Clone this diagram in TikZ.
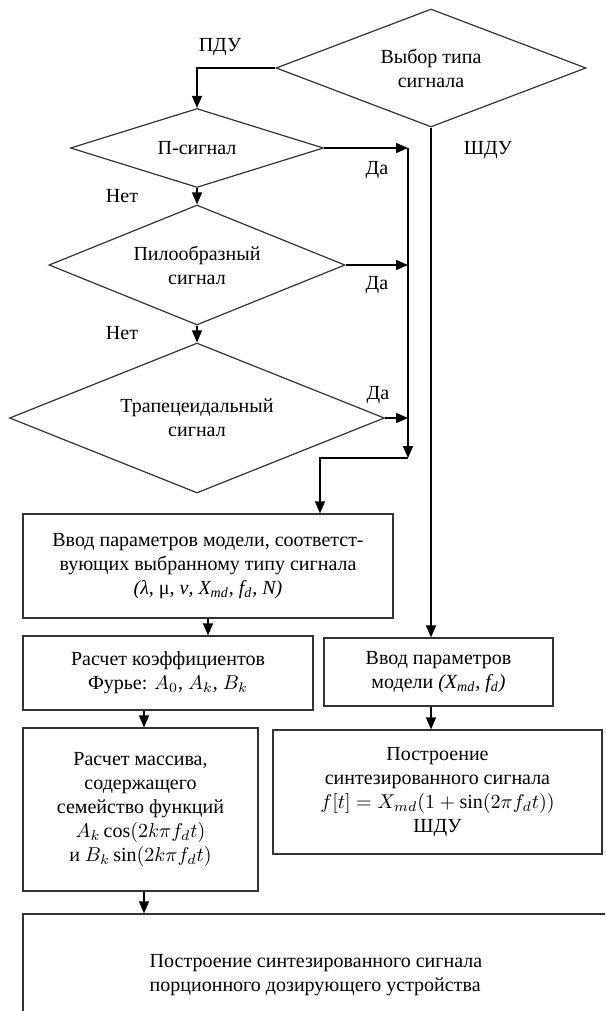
\documentclass[tikz,border=0pt]{standalone}
\usepackage{fontspec}
\setmainfont{Liberation Serif}
\usetikzlibrary{shapes.geometric,arrows.meta}

\begin{document}
\begin{tikzpicture}[x=0.5pt,y=-0.5pt,font=\fontsize{10}{12}\selectfont]
\tikzset{
  vybor/.style={diamond,draw=black!80,line width=0.6pt,inner sep=0pt,align=center},
  blok/.style={rectangle,draw=black!80,line width=0.6pt,align=center,inner sep=0pt},
  strelka/.style={-{Triangle[length=6pt,width=5pt]},line width=0.7pt}
}
\useasboundingbox (0,0) rectangle (605,1011);
\clip (0,0) rectangle (605,1011);
% ромбы выбора
\node[vybor,aspect=2.6,minimum width=155pt,minimum height=59pt] (tip) at (431,68) {Выбор типа\\сигнала};
\node[vybor,aspect=3.2,minimum width=126.5pt,minimum height=39.5pt] (psig) at (197,148) {П-сигнал};
\node[vybor,aspect=2.5,minimum width=148pt,minimum height=60pt] (pilo) at (197,265) {Пилообразный\\сигнал};
\node[vybor,aspect=2.5,minimum width=187.5pt,minimum height=75pt] (trap) at (197,418) {Трапецеидальный\\сигнал};
% блоки
\node[blok,minimum width=185pt,minimum height=52pt] (vvod) at (208,566)
  {Ввод параметров модели, соответст-\\вующих выбранному типу сигнала\\{\itshape(λ, }μ{\itshape, ν, X\textsubscript{md}, f\textsubscript{d}, N)}};
\node[blok,minimum width=145pt,minimum height=37pt] (koef) at (168,673)
  {Расчет коэффициентов\\Фурье: $A_0$, $A_k$, $B_k$};
\node[blok,minimum width=114.5pt,minimum height=34pt] (vvodsh) at (438.5,672)
  {Ввод параметров\\модели {\itshape(X\textsubscript{md}, f\textsubscript{d})}};
\node[blok,minimum width=117.5pt,minimum height=81.5pt] (massiv) at (140.5,809.5)
  {Расчет массива,\\содержащего\\семейство функций\\$A_k\cos(2k\pi f_d t)$\\и $B_k\sin(2k\pi f_d t)$};
\node[blok,minimum width=164.5pt,minimum height=62pt] (postr) at (437.5,792)
  {Построение\\синтезированного сигнала\\$f[t]=X_{md}(1+\sin(2\pi f_d t))$\\ШДУ};
\node[blok,align=left,minimum width=293pt,minimum height=61pt] (itog) at (316,975)
  {Построение синтезированного сигнала\\порционного дозирующего устройства};
% подписи
\node (pdu) at (220,47) {ПДУ};
\node (shdu) at (488,150) {ШДУ};
\node (da1) at (377,170) {Да};
\node (da2) at (377,285) {Да};
\node (da3) at (378,395) {Да};
\node (net1) at (122,196) {Нет};
\node (net2) at (122,333) {Нет};
% точки сборной линии
\coordinate (s1) at (408,148);
\coordinate (s4) at (408,458);
\coordinate (s5) at (320,458);
\coordinate (s6) at (144,0);
% связи
\draw[strelka] (tip.west) -| (psig.north);
\draw[strelka] (psig.east) -- (s1);
\draw[strelka] (pilo.east) -- (pilo.east -| s1);
\draw[strelka] (trap.east) -- (trap.east -| s1);
\draw[strelka] (s1) -- (s4);
\draw[strelka] (psig.south) -- (pilo.north);
\draw[strelka] (pilo.south) -- (trap.north);
\draw[strelka] (s4) -| (s5 |- vvod.north);
\draw[strelka] (tip.south) -- (tip.south |- vvodsh.north);
\draw[strelka] (vvod.south) -- (vvod.south |- koef.north);
\draw[strelka] (s6 |- koef.south) -- (s6 |- massiv.north);
\draw[strelka] (tip.south |- vvodsh.south) -- (tip.south |- postr.north);
\draw[strelka] (s6 |- massiv.south) -- (s6 |- itog.north);
\end{tikzpicture}
\end{document}
